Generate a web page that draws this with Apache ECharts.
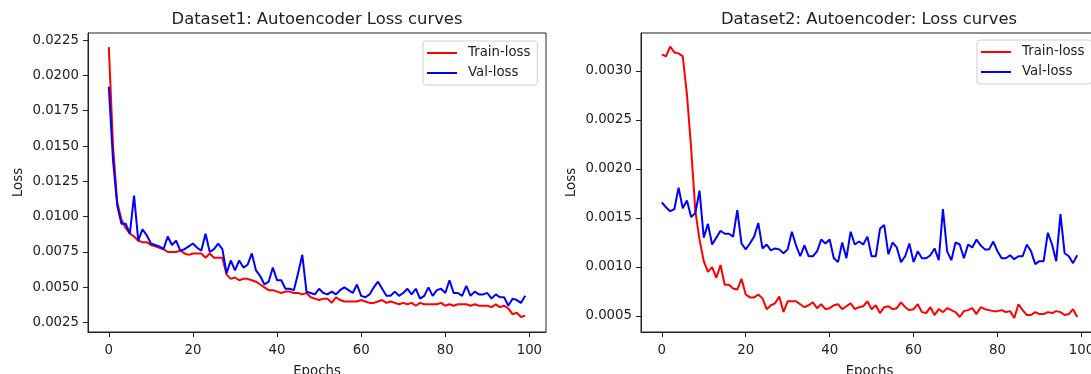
<!DOCTYPE html>
<html>
<head>
<meta charset="utf-8">
<title>Autoencoder loss curves</title>
<script src="https://cdn.jsdelivr.net/npm/echarts@6.0.0/dist/echarts.min.js"></script>
<style>
  html, body { margin: 0; padding: 0; background: #fff; }
  #chart { width: 1091px; height: 374px; }
</style>
</head>
<body>
<div id="chart"></div>
<script>
// Dataset1 (left panel)
const trainLoss1 = [
  0.0220, 0.0150, 0.0110, 0.0098, 0.0092, 0.0088, 0.0086, 0.0083, 0.0082, 0.0082,
  0.0080, 0.0079, 0.0078, 0.0077, 0.0075, 0.0075, 0.0075, 0.0076, 0.0074, 0.0073,
  0.0074, 0.0074, 0.0074, 0.0071, 0.0074, 0.0071, 0.0071, 0.0071, 0.0059, 0.0056,
  0.0057, 0.0055, 0.0056, 0.0056, 0.0055, 0.0054, 0.0052, 0.0050, 0.0048, 0.0048,
  0.0047, 0.0046, 0.0047, 0.0047, 0.0046, 0.0046, 0.0045, 0.0046, 0.0043, 0.0042,
  0.0041, 0.0042, 0.0042, 0.0039, 0.0043, 0.0041, 0.0040, 0.0040, 0.0040, 0.0040,
  0.0041, 0.0040, 0.0039, 0.0039, 0.0040, 0.0041, 0.0039, 0.0040, 0.0039, 0.0038,
  0.0039, 0.0038, 0.0039, 0.0037, 0.0039, 0.0038, 0.0038, 0.0038, 0.0038, 0.0039,
  0.0037, 0.0038, 0.0037, 0.0038, 0.0038, 0.0038, 0.0037, 0.0038, 0.0037, 0.0037,
  0.0037, 0.0036, 0.0038, 0.0036, 0.0037, 0.0035, 0.0031, 0.0032, 0.0029, 0.0030
];
const valLoss1 = [
  0.0192, 0.0140, 0.0108, 0.0095, 0.0095, 0.0088, 0.0115, 0.0083, 0.0091, 0.0087,
  0.0081, 0.0080, 0.0079, 0.0077, 0.0086, 0.0080, 0.0083, 0.0076, 0.0077, 0.0079,
  0.0081, 0.0078, 0.0076, 0.0088, 0.0075, 0.0077, 0.0081, 0.0077, 0.0060, 0.0069,
  0.0062, 0.0069, 0.0064, 0.0066, 0.0074, 0.0062, 0.0058, 0.0052, 0.0054, 0.0064,
  0.0055, 0.0055, 0.0049, 0.0049, 0.0048, 0.0060, 0.0073, 0.0047, 0.0046, 0.0045,
  0.0049, 0.0046, 0.0045, 0.0047, 0.0045, 0.0048, 0.0050, 0.0048, 0.0046, 0.0052,
  0.0044, 0.0043, 0.0045, 0.0050, 0.0054, 0.0049, 0.0044, 0.0044, 0.0047, 0.0044,
  0.0046, 0.0049, 0.0045, 0.0049, 0.0042, 0.0044, 0.0050, 0.0044, 0.0048, 0.0049,
  0.0046, 0.0055, 0.0046, 0.0046, 0.0044, 0.0051, 0.0044, 0.0047, 0.0045, 0.0045,
  0.0046, 0.0042, 0.0045, 0.0043, 0.0043, 0.0037, 0.0042, 0.0041, 0.0039, 0.0044
];

// Dataset2 (right panel)
const trainLoss2 = [
  0.00317, 0.00315, 0.00325, 0.00319, 0.00318, 0.00315, 0.00276, 0.00221, 0.00157, 0.00128,
  0.00106, 0.00095, 0.00100, 0.00089, 0.00102, 0.00082, 0.00082, 0.00078, 0.00077, 0.00088,
  0.00072, 0.00069, 0.00069, 0.00072, 0.00068, 0.00057, 0.00061, 0.00063, 0.00070, 0.00054,
  0.00065, 0.00065, 0.00065, 0.00062, 0.00059, 0.00061, 0.00064, 0.00058, 0.00062, 0.00057,
  0.00058, 0.00061, 0.00062, 0.00057, 0.00060, 0.00063, 0.00057, 0.00059, 0.00060, 0.00065,
  0.00057, 0.00061, 0.00053, 0.00059, 0.00060, 0.00057, 0.00058, 0.00064, 0.00059, 0.00056,
  0.00057, 0.00062, 0.00054, 0.00053, 0.00059, 0.00051, 0.00057, 0.00054, 0.00058, 0.00056,
  0.00054, 0.00049, 0.00055, 0.00056, 0.00058, 0.00052, 0.00059, 0.00057, 0.00056, 0.00055,
  0.00055, 0.00056, 0.00054, 0.00055, 0.00048, 0.00062, 0.00056, 0.00051, 0.00051, 0.00054,
  0.00052, 0.00052, 0.00054, 0.00053, 0.00055, 0.00054, 0.00051, 0.00052, 0.00057, 0.00049
];
const valLoss2 = [
  0.00166, 0.00161, 0.00157, 0.00159, 0.00181, 0.00160, 0.00168, 0.00151, 0.00155, 0.00178,
  0.00130, 0.00144, 0.00123, 0.00130, 0.00137, 0.00134, 0.00134, 0.00131, 0.00158, 0.00124,
  0.00118, 0.00124, 0.00131, 0.00145, 0.00119, 0.00123, 0.00117, 0.00119, 0.00118, 0.00114,
  0.00118, 0.00136, 0.00122, 0.00111, 0.00122, 0.00111, 0.00111, 0.00116, 0.00128, 0.00124,
  0.00128, 0.00109, 0.00105, 0.00125, 0.00109, 0.00136, 0.00123, 0.00126, 0.00123, 0.00131,
  0.00111, 0.00111, 0.00139, 0.00143, 0.00113, 0.00125, 0.00120, 0.00105, 0.00111, 0.00124,
  0.00105, 0.00116, 0.00109, 0.00109, 0.00112, 0.00119, 0.00107, 0.00159, 0.00116, 0.00107,
  0.00125, 0.00123, 0.00109, 0.00123, 0.00120, 0.00128, 0.00122, 0.00118, 0.00118, 0.00126,
  0.00116, 0.00109, 0.00109, 0.00112, 0.00108, 0.00111, 0.00111, 0.00123, 0.00116, 0.00103,
  0.00106, 0.00106, 0.00135, 0.00123, 0.00106, 0.00154, 0.00114, 0.00111, 0.00104, 0.00112
];

// tick labels
const epochTicks = [0, 20, 40, 60, 80, 100];
const lossTicks1 = [0.0025, 0.0050, 0.0075, 0.0100, 0.0125, 0.0150, 0.0175, 0.0200, 0.0225];
const lossTicks2 = [0.0005, 0.0010, 0.0015, 0.0020, 0.0025, 0.0030];

const FONT = 'DejaVu Sans';
const TEXT = '#222';

// pair each value with its epoch index
const withEpochs = (arr) => arr.map((v, i) => [i, v]);

function xAxisFor(gridIndex) {
  return {
    type: 'value',
    gridIndex,
    min: -4.95,
    max: 103.95,
    name: 'Epochs',
    nameLocation: 'middle',
    nameGap: 33,
    nameTextStyle: { color: TEXT, fontFamily: FONT, fontSize: 13.3 },
    axisLine: { show: true, onZero: false, lineStyle: { color: '#222', width: 1 } },
    axisTick: { show: true, customValues: epochTicks, length: 5, inside: false, lineStyle: { color: '#222' } },
    axisLabel: { customValues: epochTicks, margin: 12, color: TEXT, fontFamily: FONT, fontSize: 13.3 },
    splitLine: { show: false }
  };
}

function yAxisFor(gridIndex, min, max, ticks) {
  return {
    type: 'value',
    gridIndex,
    min,
    max,
    name: 'Loss',
    nameLocation: 'middle',
    nameGap: 63,
    nameRotate: 90,
    nameTextStyle: { color: TEXT, fontFamily: FONT, fontSize: 13.3 },
    axisLine: { show: true, onZero: false, lineStyle: { color: '#222', width: 1 } },
    axisTick: { show: true, customValues: ticks, length: 5, inside: false, lineStyle: { color: '#222' } },
    axisLabel: {
      customValues: ticks,
      margin: 9,
      color: TEXT,
      fontFamily: FONT,
      fontSize: 13.3,
      formatter: (v) => v.toFixed(4)
    },
    splitLine: { show: false }
  };
}

function legendAt(left, top) {
  return {
    left,
    top,
    orient: 'vertical',
    data: ['Train-loss', 'Val-loss'],
    icon: 'rect',
    itemWidth: 30,
    itemHeight: 2,
    itemGap: 4,
    padding: [4, 7, 4, 4],
    backgroundColor: 'rgba(255,255,255,0.8)',
    borderColor: '#d0d0d0',
    borderWidth: 1,
    borderRadius: 3,
    selectedMode: false,
    textStyle: { color: TEXT, fontFamily: FONT, fontSize: 13.3, lineHeight: 16, padding: [0, 0, 0, 6] }
  };
}

function lossSeries(name, color, axisIndex, data) {
  return {
    name,
    type: 'line',
    xAxisIndex: axisIndex,
    yAxisIndex: axisIndex,
    data: withEpochs(data),
    showSymbol: false,
    symbol: 'none',
    color,
    lineStyle: { color, width: 2 },
    z: name === 'Val-loss' ? 3 : 2
  };
}

const chart = echarts.init(document.getElementById('chart'), null, { renderer: 'canvas' });

const option = {
  animation: false,
  backgroundColor: '#fff',
  title: [
    {
      text: 'Dataset1: Autoencoder Loss curves',
      left: 317,
      top: 12,
      textAlign: 'center',
      padding: 0,
      textStyle: { color: TEXT, fontFamily: FONT, fontSize: 16.4, fontWeight: 'normal' }
    },
    {
      text: 'Dataset2: Autoencoder: Loss curves',
      left: 869,
      top: 12,
      textAlign: 'center',
      padding: 0,
      textStyle: { color: TEXT, fontFamily: FONT, fontSize: 16.4, fontWeight: 'normal' }
    }
  ],
  legend: [legendAt(423, 41), legendAt(977, 40)],
  grid: [
    { left: 88, top: 33, width: 458, height: 299, outerBoundsMode: 'none', containLabel: false, show: true, borderColor: '#222', borderWidth: 1, backgroundColor: 'transparent' },
    { left: 641, top: 33, width: 457, height: 299, outerBoundsMode: 'none', containLabel: false, show: true, borderColor: '#222', borderWidth: 1, backgroundColor: 'transparent' }
  ],
  xAxis: [xAxisFor(0), xAxisFor(1)],
  yAxis: [
    yAxisFor(0, 0.00184, 0.0230, lossTicks1),
    yAxisFor(1, 0.000337, 0.003388, lossTicks2)
  ],
  series: [
    lossSeries('Train-loss', '#ff0000', 0, trainLoss1),
    lossSeries('Val-loss', '#0000ff', 0, valLoss1),
    lossSeries('Train-loss', '#ff0000', 1, trainLoss2),
    lossSeries('Val-loss', '#0000ff', 1, valLoss2)
  ]
};

chart.setOption(option);
</script>
</body>
</html>
